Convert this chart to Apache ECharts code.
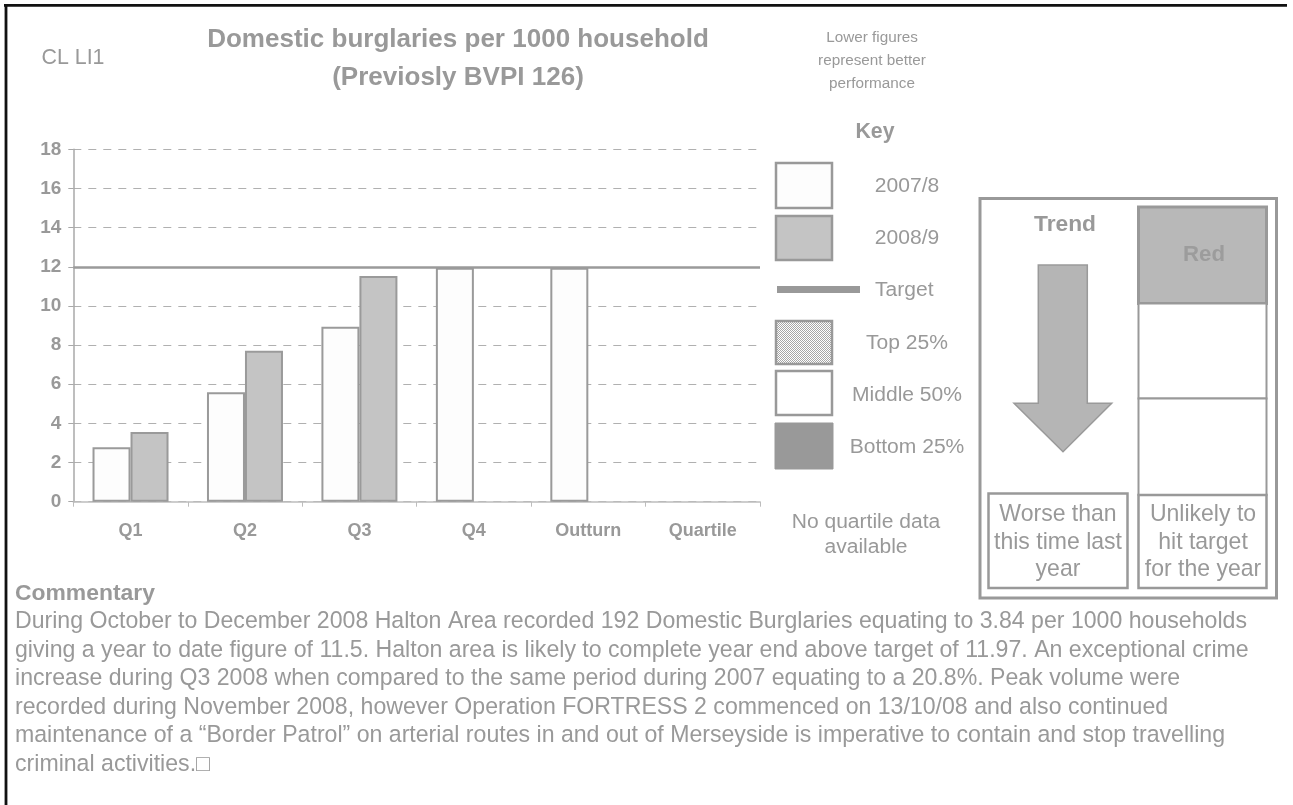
<!DOCTYPE html>
<html>
<head>
<meta charset="utf-8">
<script src="https://cdn.jsdelivr.net/npm/echarts@6/dist/echarts.min.js"></script>
<style>
html,body{margin:0;padding:0;background:#fff;}
#main{width:1293px;height:805px;}
</style>
</head>
<body>
<div id="main"></div>
<script>
// ---- data ----
const categories = ['Q1', 'Q2', 'Q3', 'Q4', 'Outturn', 'Quartile'];
const values2007 = [2.78, 5.59, 8.94, 11.95, 11.95, null];
const values2008 = [3.56, 7.71, 11.53, null, null, null];
const targetValue = 11.97;
const seriesNames = ['2007/8', '2008/9'];
const keyLabels = ['2007/8', '2008/9', 'Target', 'Top 25%', 'Middle 50%', 'Bottom 25%'];
const titleLines = ['Domestic burglaries per 1000 household', '(Previosly BVPI 126)'];
const noteLines = ['Lower figures', 'represent better', 'performance'];
const quartileNote = ['No quartile data', 'available'];
const trendText = ['Worse than', 'this time last', 'year'];
const targetText = ['Unlikely to', 'hit target', 'for the year'];
const commentaryLines = [
  'During October to December 2008 Halton Area recorded 192 Domestic Burglaries equating to 3.84 per 1000 households',
  'giving a year to date figure of 11.5. Halton area is likely to complete year end above target of 11.97. An exceptional crime',
  'increase during Q3 2008 when compared to the same period during 2007 equating to a 20.8%. Peak volume were',
  'recorded during November 2008, however Operation FORTRESS 2 commenced on 13/10/08 and also continued',
  'maintenance of a \u201CBorder Patrol\u201D on arterial routes in and out of Merseyside is imperative to contain and stop travelling',
  'criminal activities.\u25A1'
];

// ---- helpers ----
const FF = '"Liberation Sans", Arial, sans-serif';
const TXT = '#999999';
const cv = document.createElement('canvas');
const cx = cv.getContext('2d');
function fit(text, width, weight) {
  cx.font = (weight || 'normal') + ' 100px ' + FF;
  return 100 * width / cx.measureText(text).width;
}
function txt(text, x, y, size, opts) {
  opts = opts || {};
  return {
    type: 'text', x: x, y: y, z: 100,
    style: {
      text: text, fill: opts.fill || TXT,
      fontSize: size, fontWeight: opts.bold ? 'bold' : 'normal', fontFamily: FF,
      align: opts.align || 'center', verticalAlign: 'middle',
      textAlign: opts.align || 'center', textVerticalAlign: 'middle'
    }
  };
}
function box(x1, y1, x2, y2, fill, stroke, lw) {
  return {
    type: 'rect', z: 50,
    shape: { x: x1, y: y1, width: x2 - x1, height: y2 - y1 },
    style: { fill: fill, stroke: stroke, lineWidth: lw }
  };
}

// fine dotted (checker) pattern for Top 25%
const pc = document.createElement('canvas');
pc.width = 2; pc.height = 2;
const pctx = pc.getContext('2d');
pctx.fillStyle = '#ffffff'; pctx.fillRect(0, 0, 2, 2);
pctx.fillStyle = '#a6a6a6';
pctx.fillRect(0, 0, 1, 1); pctx.fillRect(1, 1, 1, 1);

const sTitle = fit(titleLines[0], 502, 'bold');
const sBody = fit(commentaryLines[0], 1233);
const sKey = fit('Middle 50%', 110);
const sNote = fit('represent better', 108);
const sBox = fit('this time last', 128);

const graphics = [];
// page border
graphics.push({ type: 'line', z: 10, shape: { x1: 4, y1: 5.3, x2: 1287, y2: 5.3 }, style: { stroke: '#111', lineWidth: 2.8 } });
graphics.push({ type: 'line', z: 10, shape: { x1: 6, y1: 4, x2: 6, y2: 805 }, style: { stroke: '#111', lineWidth: 2.8 } });
// header texts
graphics.push(txt('CL LI1', 73, 58, fit('CL LI1', 63)));
graphics.push(txt(titleLines[0], 458, 40, sTitle, { bold: true }));
graphics.push(txt(titleLines[1], 458, 78, sTitle, { bold: true }));
noteLines.forEach((t, i) => graphics.push(txt(t, 872, 38 + i * 23, sNote)));
graphics.push(txt('Key', 875, 132, fit('Key', 39, 'bold'), { bold: true }));

// key swatches
graphics.push(box(776, 163, 832, 208, '#fdfdfd', '#999', 2.5));
graphics.push(box(776, 216, 832, 260, '#c4c4c4', '#999', 2.5));
graphics.push({ type: 'rect', z: 50, shape: { x: 777, y: 286, width: 83, height: 7 }, style: { fill: '#999' } });
graphics.push({ type: 'rect', z: 50, shape: { x: 776, y: 321, width: 56, height: 43 },
  style: { fill: { image: pc, repeat: 'repeat' }, stroke: '#999', lineWidth: 2.5 } });
graphics.push(box(776, 371, 832, 415, '#ffffff', '#999', 2.5));
graphics.push(box(775, 423, 833, 469, '#999999', '#999', 1));
const keyY = [186, 238, 290, 343, 395, 447];
keyLabels.forEach((t, i) => {
  if (i === 2) graphics.push(txt(t, 875, keyY[i], sKey, { align: 'left' }));
  else graphics.push(txt(t, 907, keyY[i], sKey));
});
quartileNote.forEach((t, i) => graphics.push(txt(t, 866, 522 + i * 25, sKey)));

// right panel
graphics.push(box(980, 198.5, 1276.5, 598, '#ffffff', '#999', 3));
graphics.push(txt('Trend', 1065, 225, fit('Trend', 62, 'bold'), { bold: true }));
graphics.push({
  type: 'polygon', z: 60,
  shape: { points: [[1038.3, 265], [1087.3, 265], [1087.3, 403.3], [1111.7, 403.3], [1063, 451.7], [1014, 403.3], [1038.3, 403.3]] },
  style: { fill: '#b5b5b5', stroke: '#9a9a9a', lineWidth: 1.5 }
});
graphics.push(box(988.5, 493.5, 1127.5, 588, '#ffffff', '#999', 2.5));
trendText.forEach((t, i) => graphics.push(txt(t, 1058, 515 + i * 27.5, sBox)));
graphics.push(box(1138.5, 207, 1266.5, 303.5, '#b8b8b8', '#999', 3));
graphics.push(txt('Red', 1204, 255, fit('Red', 42, 'bold'), { bold: true, fill: '#9c9c9c' }));
graphics.push(box(1138.5, 303.5, 1266.5, 398.5, '#ffffff', '#999', 2));
graphics.push(box(1138.5, 398.5, 1266.5, 495, '#ffffff', '#999', 2));
graphics.push(box(1138.5, 495, 1266.5, 588, '#ffffff', '#999', 2.5));
targetText.forEach((t, i) => graphics.push(txt(t, 1203, 515 + i * 27.5, sBox)));

// commentary
graphics.push(txt('Commentary', 15, 594, fit('Commentary', 140, 'bold'), { bold: true, align: 'left' }));
commentaryLines.forEach((t, i) => graphics.push(txt(t, 15, 622 + i * 28.5, sBody, { align: 'left' })));

const chart = echarts.init(document.getElementById('main'), null, { renderer: 'canvas' });
chart.setOption({
  backgroundColor: '#ffffff',
  animation: false,
  grid: { left: 73.3, right: 533, top: 149.3, bottom: 303.3, containLabel: false },
  xAxis: {
    type: 'category', data: categories,
    axisLine: { lineStyle: { color: '#bdbdbd', width: 1.5 } },
    axisTick: { show: true, length: 5, lineStyle: { color: '#bdbdbd' } },
    axisLabel: { color: TXT, fontSize: 18, fontWeight: 'bold', fontFamily: FF, margin: 20 }
  },
  yAxis: {
    type: 'value', min: 0, max: 18, interval: 2,
    axisLine: { show: true, lineStyle: { color: '#a8a8a8', width: 1.5 } },
    axisTick: { show: true, length: 5, lineStyle: { color: '#a8a8a8' } },
    axisLabel: { color: TXT, fontSize: 19, fontWeight: 'bold', fontFamily: FF, margin: 12 },
    splitLine: { show: true, lineStyle: { color: '#b0b0b0', width: 1, type: [8, 7] } }
  },
  series: [
    {
      name: seriesNames[0], type: 'bar', data: values2007, barWidth: 38, barGap: '0%',
      itemStyle: { color: '#fdfdfd', borderColor: '#9a9a9a', borderWidth: 2 },
      markLine: {
        silent: true, symbol: 'none', label: { show: false },
        lineStyle: { color: '#9a9a9a', width: 2.5, type: 'solid' },
        data: [{ yAxis: targetValue }]
      }
    },
    {
      name: seriesNames[1], type: 'bar', data: values2008, barWidth: 38, barGap: '0%',
      itemStyle: { color: '#c4c4c4', borderColor: '#9a9a9a', borderWidth: 2 }
    }
  ],
  graphic: graphics
});
</script>
</body>
</html>
